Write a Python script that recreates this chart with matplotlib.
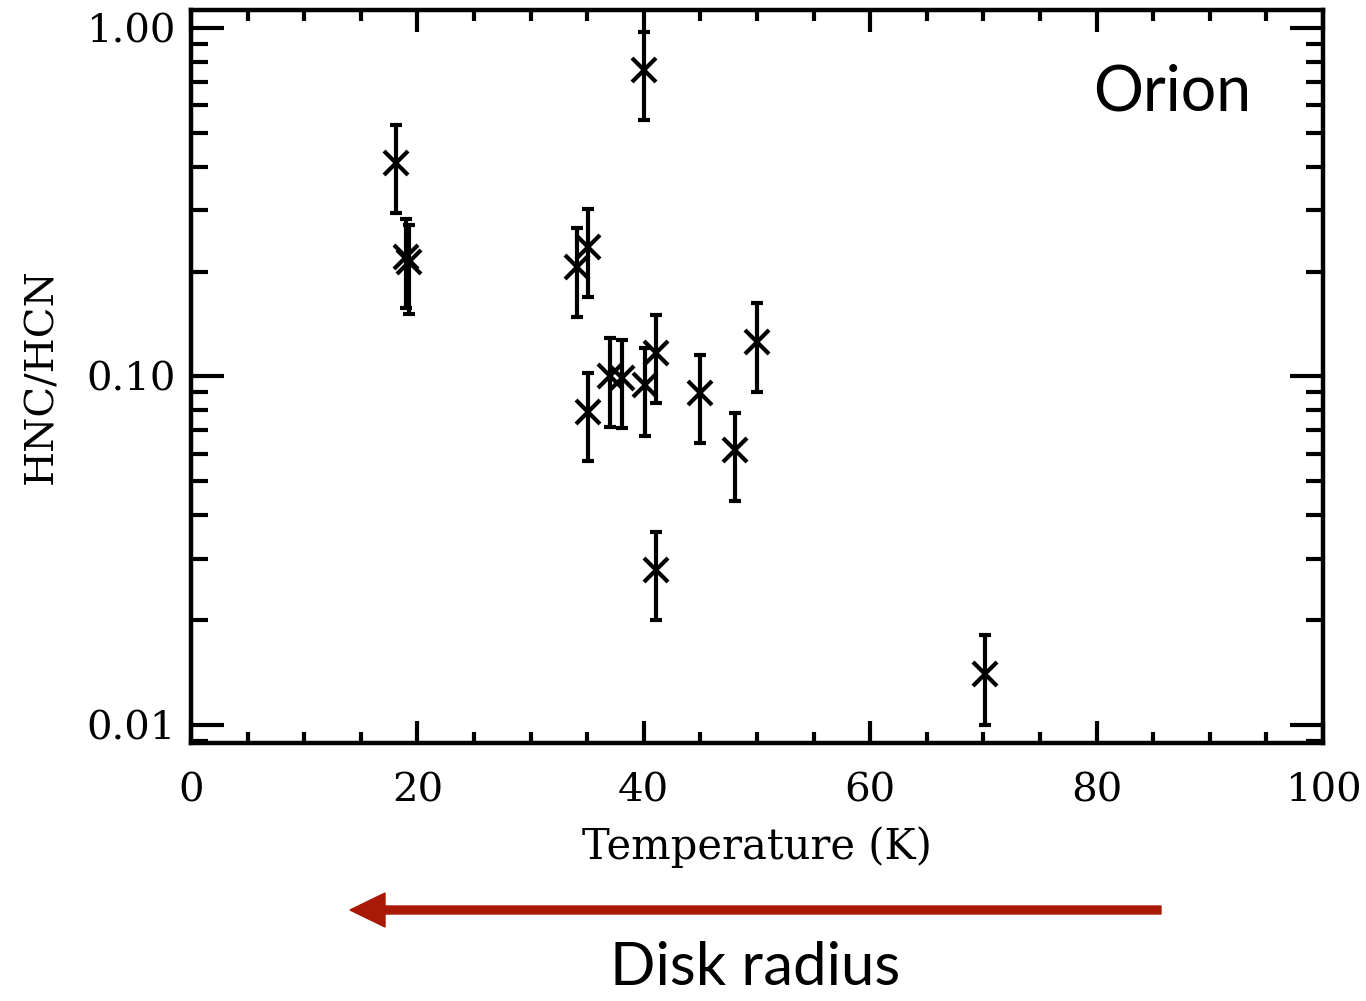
import matplotlib
matplotlib.use("Agg")
import matplotlib.pyplot as plt
import numpy as np
from matplotlib.ticker import FixedLocator, LogLocator, MultipleLocator, NullFormatter
from matplotlib.patches import FancyArrow

# Data
temperature = [18.1, 19.0, 19.3, 40.0, 34.1, 35.1, 35.1, 37.0, 38.1, 40.1, 41.1, 41.1, 45.0, 48.1, 50.0, 70.1]
ratio       = [0.410, 0.220, 0.213, 0.758, 0.206, 0.235, 0.079, 0.100, 0.099, 0.0945, 0.117, 0.0279, 0.0897, 0.0615, 0.126, 0.0140]
err_upper   = [0.527, 0.283, 0.272, 0.974, 0.267, 0.303, 0.102, 0.129, 0.127, 0.121, 0.150, 0.0358, 0.115, 0.0786, 0.162, 0.0181]
err_lower   = [0.294, 0.157, 0.151, 0.545, 0.148, 0.169, 0.0572, 0.0716, 0.0711, 0.0675, 0.0839, 0.0200, 0.0644, 0.0439, 0.0903, 0.0100]

y_ticks = [0.01, 0.1, 1.0]
y_ticklabels = ["0.01", "0.10", "1.00"]
x_ticks = [0, 20, 40, 60, 80, 100]
x_ticklabels = ["0", "20", "40", "60", "80", "100"]

W, H = 1366, 1001
fig = plt.figure(figsize=(W / 100, H / 100), dpi=100)
ax = fig.add_axes([191 / W, 1 - 743 / H, (1323 - 191) / W, (743 - 10) / H])

r = np.array(ratio)
yerr = np.vstack([r - np.array(err_lower), np.array(err_upper) - r])
ax.errorbar(temperature, ratio, yerr=yerr, fmt="x", color="black",
            ms=17, mew=3, elinewidth=3, capsize=4.5, capthick=3)

ax.set_yscale("log")
ax.set_xlim(0, 100)
ax.set_ylim(0.00888, 1.126)

serif = "DejaVu Serif"
fs = 29
ax.yaxis.set_major_locator(FixedLocator(y_ticks))
ax.set_yticklabels(y_ticklabels, family=serif, fontsize=fs)
ax.yaxis.set_minor_locator(LogLocator(base=10, subs=np.arange(2, 10)))
ax.yaxis.set_minor_formatter(NullFormatter())
ax.xaxis.set_major_locator(FixedLocator(x_ticks))
ax.set_xticklabels(x_ticklabels, family=serif, fontsize=fs)
ax.xaxis.set_minor_locator(MultipleLocator(5))

ax.tick_params(axis="both", which="both", direction="in", top=True, right=True, width=3, color="black")
ax.tick_params(axis="y", which="major", length=24, pad=11)
ax.tick_params(axis="y", which="minor", length=12)
ax.tick_params(axis="x", which="major", length=16, pad=21)
ax.tick_params(axis="x", which="minor", length=8)
for s in ax.spines.values():
    s.set_linewidth(3.2)

ax.set_xlabel("Temperature (K)", family=serif, fontsize=30, labelpad=12)
ax.set_ylabel("HNC/HCN", family=serif, fontsize=fs, labelpad=19)

ax.text(0.867, 0.887, "Orion", transform=ax.transAxes, family="Lato", fontsize=45,
        ha="center", va="center")

# red arrow below the plot (figure pixel coordinates)
arrow = FancyArrow(1161 / W, 1 - 910 / H, (350 - 1161) / W, 0, width=8 / H,
                   head_width=34 / H, head_length=35 / W, length_includes_head=True,
                   color="#A81A05", transform=fig.transFigure)
fig.add_artist(arrow)
fig.text(755 / W, 1 - 968 / H, "Disk radius", family="Lato", fontsize=43,
         ha="center", va="center")

fig.savefig("out.png", dpi=100)
